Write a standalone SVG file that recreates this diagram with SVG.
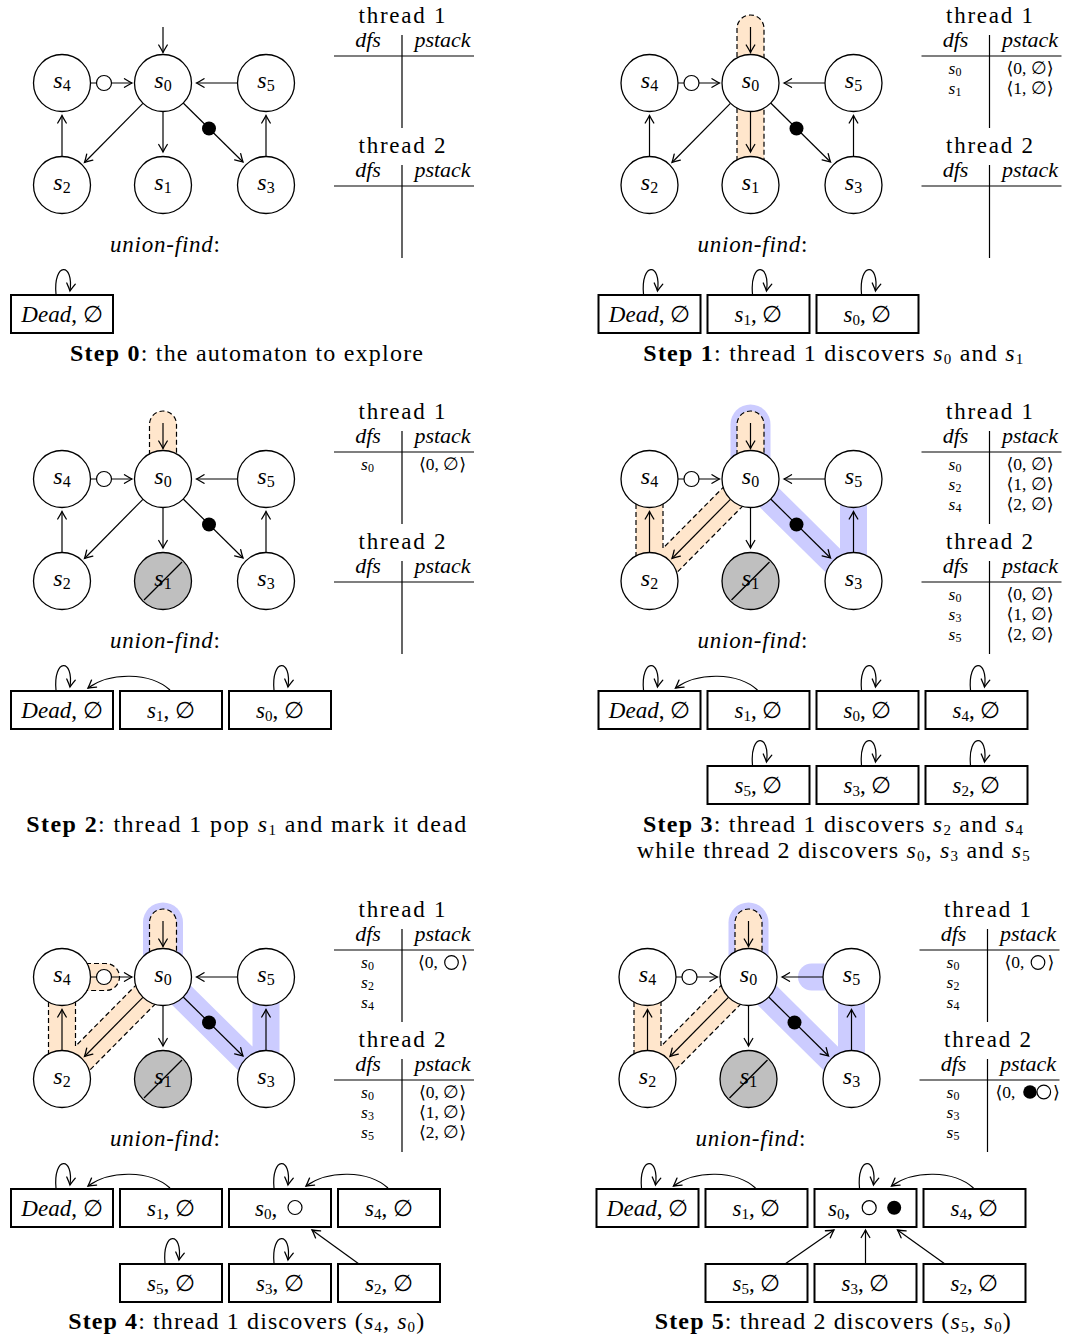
<svg xmlns="http://www.w3.org/2000/svg" width="1067" height="1340" viewBox="0 0 1067 1340">
<style>
text{font-family:"Liberation Serif","DejaVu Serif",serif;font-size:22px;fill:#000}
.it{font-style:italic}
.sb{font-size:15px;font-style:normal}
.bd{font-weight:bold}
.mid{text-anchor:middle}
.hd{font-size:23px}
.row{font-size:17.5px}
.row .sb{font-size:12px}
.cap{font-size:24px;text-anchor:middle}
.nd circle{fill:#fff;stroke:#000;stroke-width:1.3}
.nd.dead circle{fill:#bfbfbf}
.nd text{text-anchor:middle;font-size:24px}
.nd .sb{font-size:16px}
.sl{stroke:#000;stroke-width:1.3}
.e{fill:none;stroke:#000;stroke-width:1.2}
.a{marker-end:url(#ah)}
.oc{fill:#fff;stroke:#000;stroke-width:1.2}
.fc{fill:#000}
.or{fill:none;stroke:#ffe6cc;stroke-width:27;stroke-linecap:round;stroke-linejoin:round}
.bl{fill:none;stroke:#ccccff;stroke-width:27;stroke-linecap:round;stroke-linejoin:round}
.bw{stroke-width:40}
.ds{fill:none;stroke:#000;stroke-width:1.2;stroke-dasharray:5 3}
.tl{fill:none;stroke:#000;stroke-width:1.2}
.bx rect{fill:#fff;stroke:#000;stroke-width:2}
.bx text{text-anchor:middle;font-size:23px}
</style>
<defs>
<marker id="ah" viewBox="-10 -6 12 12" refX="0" refY="0" markerWidth="12" markerHeight="12" markerUnits="userSpaceOnUse" orient="auto">
<path d="M-7.5,-4.3 Q-2.5,-1.2 0,0 Q-2.5,1.2 -7.5,4.3" fill="none" stroke="#000" stroke-width="1.3" stroke-linecap="round"/>
</marker>
</defs>

<!-- ================= STEP 0 ================= -->
<g id="step0">
<g id="p0-connectors">
<path class="e a" d="M163,27V52.5"/>
<path class="e a" d="M90.5,83H132"/>
<circle class="oc" cx="104" cy="83" r="7.5"/>
<path class="e a" d="M237.5,83H196.5"/>
<path class="e a" d="M142.9,103.3L84.5,162.5"/>
<path class="e a" d="M163,111.5V152"/>
<path class="e a" d="M183.2,103L243,162"/>
<circle class="fc" cx="209" cy="128.5" r="7"/>
<path class="e a" d="M62,156.5V115.5"/>
<path class="e a" d="M266,156.5V115.5"/>
<path class="e a" d="M56,294C53,262 74,262 70,291"/>
</g>
<g id="p0-s0" class="nd"><circle cx="163" cy="83" r="28.5"/><text x="163" y="87.5"><tspan class="it">s</tspan><tspan class="sb" dy="3">0</tspan></text></g>
<g id="p0-s1" class="nd"><circle cx="163" cy="185" r="28.5"/><text x="163" y="189.5"><tspan class="it">s</tspan><tspan class="sb" dy="3">1</tspan></text></g>
<g id="p0-s2" class="nd"><circle cx="62" cy="185" r="28.5"/><text x="62" y="189.5"><tspan class="it">s</tspan><tspan class="sb" dy="3">2</tspan></text></g>
<g id="p0-s3" class="nd"><circle cx="266" cy="185" r="28.5"/><text x="266" y="189.5"><tspan class="it">s</tspan><tspan class="sb" dy="3">3</tspan></text></g>
<g id="p0-s4" class="nd"><circle cx="62" cy="83" r="28.5"/><text x="62" y="87.5"><tspan class="it">s</tspan><tspan class="sb" dy="3">4</tspan></text></g>
<g id="p0-s5" class="nd"><circle cx="266" cy="83" r="28.5"/><text x="266" y="87.5"><tspan class="it">s</tspan><tspan class="sb" dy="3">5</tspan></text></g>
<g id="p0-thread1">
<text class="mid hd" x="402" y="23" textLength="87">thread 1</text>
<text class="it mid" x="368" y="46.5">dfs</text>
<text class="it mid" x="442.5" y="46.5">pstack</text>
<path class="tl" d="M334,56H474M402,35V128"/>
</g>
<g id="p0-thread2" transform="translate(0,130)">
<text class="mid hd" x="402" y="23" textLength="87">thread 2</text>
<text class="it mid" x="368" y="46.5">dfs</text>
<text class="it mid" x="442.5" y="46.5">pstack</text>
<path class="tl" d="M334,56H474M402,35V128"/>
</g>
<text class="mid hd" x="165" y="251.5" textLength="110"><tspan class="it">union-find</tspan>:</text>
<g id="p0-uf-dead" class="bx"><rect x="11" y="295" width="102" height="38"/><text x="62" y="321.5"><tspan class="it">Dead</tspan>, ∅</text></g>
<text class="cap" x="246.5" y="361" textLength="353"><tspan class="bd">Step 0</tspan>: the automaton to explore</text>
</g>

<!-- ================= STEP 1 ================= -->
<g id="step1" transform="translate(587.5,0)">
<g id="p1-highlight">
<path class="or" d="M163,28.5V185"/>
<path class="ds" d="M149.5,185V28.5A13.5,13.5 0 0 1 176.5,28.5V185"/>
</g>
<g id="p1-connectors">
<path class="e a" d="M163,27V52.5"/>
<path class="e a" d="M90.5,83H132"/>
<circle class="oc" cx="104" cy="83" r="7.5"/>
<path class="e a" d="M237.5,83H196.5"/>
<path class="e a" d="M142.9,103.3L84.5,162.5"/>
<path class="e a" d="M163,111.5V152"/>
<path class="e a" d="M183.2,103L243,162"/>
<circle class="fc" cx="209" cy="128.5" r="7"/>
<path class="e a" d="M62,156.5V115.5"/>
<path class="e a" d="M266,156.5V115.5"/>
<path class="e a" d="M56,294C53,262 74,262 70,291"/>
<path class="e a" d="M165,294C162,262 183,262 179,291"/>
<path class="e a" d="M274,294C271,262 292,262 288,291"/>
</g>
<g id="p1-s0" class="nd"><circle cx="163" cy="83" r="28.5"/><text x="163" y="87.5"><tspan class="it">s</tspan><tspan class="sb" dy="3">0</tspan></text></g>
<g id="p1-s1" class="nd"><circle cx="163" cy="185" r="28.5"/><text x="163" y="189.5"><tspan class="it">s</tspan><tspan class="sb" dy="3">1</tspan></text></g>
<g id="p1-s2" class="nd"><circle cx="62" cy="185" r="28.5"/><text x="62" y="189.5"><tspan class="it">s</tspan><tspan class="sb" dy="3">2</tspan></text></g>
<g id="p1-s3" class="nd"><circle cx="266" cy="185" r="28.5"/><text x="266" y="189.5"><tspan class="it">s</tspan><tspan class="sb" dy="3">3</tspan></text></g>
<g id="p1-s4" class="nd"><circle cx="62" cy="83" r="28.5"/><text x="62" y="87.5"><tspan class="it">s</tspan><tspan class="sb" dy="3">4</tspan></text></g>
<g id="p1-s5" class="nd"><circle cx="266" cy="83" r="28.5"/><text x="266" y="87.5"><tspan class="it">s</tspan><tspan class="sb" dy="3">5</tspan></text></g>
<g id="p1-thread1">
<text class="mid hd" x="402" y="23" textLength="87">thread 1</text>
<text class="it mid" x="368" y="46.5">dfs</text>
<text class="it mid" x="442.5" y="46.5">pstack</text>
<path class="tl" d="M334,56H474M402,35V128"/>
<text class="mid row"><tspan x="367.5" y="74" class="it">s</tspan><tspan class="sb" dy="2">0</tspan><tspan x="367.5" y="94" class="it">s</tspan><tspan class="sb" dy="2">1</tspan></text>
<text class="mid row"><tspan x="442.5" y="74">⟨0, ∅⟩</tspan><tspan x="442.5" y="94">⟨1, ∅⟩</tspan></text>
</g>
<g id="p1-thread2" transform="translate(0,130)">
<text class="mid hd" x="402" y="23" textLength="87">thread 2</text>
<text class="it mid" x="368" y="46.5">dfs</text>
<text class="it mid" x="442.5" y="46.5">pstack</text>
<path class="tl" d="M334,56H474M402,35V128"/>
</g>
<text class="mid hd" x="165" y="251.5" textLength="110"><tspan class="it">union-find</tspan>:</text>
<g id="p1-uf-dead" class="bx"><rect x="11" y="295" width="102" height="38"/><text x="62" y="321.5"><tspan class="it">Dead</tspan>, ∅</text></g>
<g id="p1-uf-s1" class="bx"><rect x="120" y="295" width="102" height="38"/><text x="171" y="321.5"><tspan class="it">s</tspan><tspan class="sb" dy="3">1</tspan><tspan dy="-3">, ∅</tspan></text></g>
<g id="p1-uf-s0" class="bx"><rect x="229" y="295" width="102" height="38"/><text x="280" y="321.5"><tspan class="it">s</tspan><tspan class="sb" dy="3">0</tspan><tspan dy="-3">, ∅</tspan></text></g>
<text class="cap" x="245.8" y="361" textLength="380"><tspan class="bd">Step 1</tspan>: thread 1 discovers <tspan class="it">s</tspan><tspan class="sb" dy="3">0</tspan><tspan dy="-3"> and </tspan><tspan class="it">s</tspan><tspan class="sb" dy="3">1</tspan></text>
</g>

<!-- ================= STEP 2 ================= -->
<g id="step2" transform="translate(0,396)">
<g id="p2-highlight">
<path class="or" d="M163,28.5V83"/>
<path class="ds" d="M149.5,83V28.5A13.5,13.5 0 0 1 176.5,28.5V83"/>
</g>
<g id="p2-connectors">
<path class="e a" d="M163,27V52.5"/>
<path class="e a" d="M90.5,83H132"/>
<circle class="oc" cx="104" cy="83" r="7.5"/>
<path class="e a" d="M237.5,83H196.5"/>
<path class="e a" d="M142.9,103.3L84.5,162.5"/>
<path class="e a" d="M163,111.5V152"/>
<path class="e a" d="M183.2,103L243,162"/>
<circle class="fc" cx="209" cy="128.5" r="7"/>
<path class="e a" d="M62,156.5V115.5"/>
<path class="e a" d="M266,156.5V115.5"/>
<path class="e a" d="M56,294C53,262 74,262 70,291"/>
<path class="e a" d="M170,294C150,276 110,276 88,292"/>
<path class="e a" d="M274,294C271,262 292,262 288,291"/>
</g>
<g id="p2-s0" class="nd"><circle cx="163" cy="83" r="28.5"/><text x="163" y="87.5"><tspan class="it">s</tspan><tspan class="sb" dy="3">0</tspan></text></g>
<g id="p2-s1" class="nd dead"><circle cx="163" cy="185" r="28.5"/><text x="163" y="189.5"><tspan class="it">s</tspan><tspan class="sb" dy="3">1</tspan></text><path class="sl" d="M144,204L182,166"/></g>
<g id="p2-s2" class="nd"><circle cx="62" cy="185" r="28.5"/><text x="62" y="189.5"><tspan class="it">s</tspan><tspan class="sb" dy="3">2</tspan></text></g>
<g id="p2-s3" class="nd"><circle cx="266" cy="185" r="28.5"/><text x="266" y="189.5"><tspan class="it">s</tspan><tspan class="sb" dy="3">3</tspan></text></g>
<g id="p2-s4" class="nd"><circle cx="62" cy="83" r="28.5"/><text x="62" y="87.5"><tspan class="it">s</tspan><tspan class="sb" dy="3">4</tspan></text></g>
<g id="p2-s5" class="nd"><circle cx="266" cy="83" r="28.5"/><text x="266" y="87.5"><tspan class="it">s</tspan><tspan class="sb" dy="3">5</tspan></text></g>
<g id="p2-thread1">
<text class="mid hd" x="402" y="23" textLength="87">thread 1</text>
<text class="it mid" x="368" y="46.5">dfs</text>
<text class="it mid" x="442.5" y="46.5">pstack</text>
<path class="tl" d="M334,56H474M402,35V128"/>
<text class="mid row" x="367.5" y="74"><tspan class="it">s</tspan><tspan class="sb" dy="2">0</tspan></text>
<text class="mid row" x="442.5" y="74">⟨0, ∅⟩</text>
</g>
<g id="p2-thread2" transform="translate(0,130)">
<text class="mid hd" x="402" y="23" textLength="87">thread 2</text>
<text class="it mid" x="368" y="46.5">dfs</text>
<text class="it mid" x="442.5" y="46.5">pstack</text>
<path class="tl" d="M334,56H474M402,35V128"/>
</g>
<text class="mid hd" x="165" y="251.5" textLength="110"><tspan class="it">union-find</tspan>:</text>
<g id="p2-uf-dead" class="bx"><rect x="11" y="295" width="102" height="38"/><text x="62" y="321.5"><tspan class="it">Dead</tspan>, ∅</text></g>
<g id="p2-uf-s1" class="bx"><rect x="120" y="295" width="102" height="38"/><text x="171" y="321.5"><tspan class="it">s</tspan><tspan class="sb" dy="3">1</tspan><tspan dy="-3">, ∅</tspan></text></g>
<g id="p2-uf-s0" class="bx"><rect x="229" y="295" width="102" height="38"/><text x="280" y="321.5"><tspan class="it">s</tspan><tspan class="sb" dy="3">0</tspan><tspan dy="-3">, ∅</tspan></text></g>
<text class="cap" x="246.3" y="435.7" textLength="440"><tspan class="bd">Step 2</tspan>: thread 1 pop <tspan class="it">s</tspan><tspan class="sb" dy="3">1</tspan><tspan dy="-3"> and mark it dead</tspan></text>
</g>

<!-- ================= STEP 3 ================= -->
<g id="step3" transform="translate(587.5,396)">
<g id="p3-highlight">
<path class="bl bw" d="M163,28.5V83"/>
<path class="bl" d="M163,83L266,185V83"/>
<path class="or" d="M163,28.5V83L62,185V83"/>
<path class="ds" d="M149.5,83V28.5A13.5,13.5 0 0 1 176.5,28.5V83M172.6,92.5L71.6,194.5M48.5,185V83M75.5,83V152.2L153.4,73.5"/>
</g>
<g id="p3-connectors">
<path class="e a" d="M163,27V52.5"/>
<path class="e a" d="M90.5,83H132"/>
<circle class="oc" cx="104" cy="83" r="7.5"/>
<path class="e a" d="M237.5,83H196.5"/>
<path class="e a" d="M142.9,103.3L84.5,162.5"/>
<path class="e a" d="M163,111.5V152"/>
<path class="e a" d="M183.2,103L243,162"/>
<circle class="fc" cx="209" cy="128.5" r="7"/>
<path class="e a" d="M62,156.5V115.5"/>
<path class="e a" d="M266,156.5V115.5"/>
<path class="e a" d="M56,294C53,262 74,262 70,291"/>
<path class="e a" d="M170,294C150,276 110,276 88,292"/>
<path class="e a" d="M274,294C271,262 292,262 288,291"/>
<path class="e a" d="M383,294C380,262 401,262 397,291"/>
<path class="e a" d="M165,369C162,337 183,337 179,366"/>
<path class="e a" d="M274,369C271,337 292,337 288,366"/>
<path class="e a" d="M383,369C380,337 401,337 397,366"/>
</g>
<g id="p3-s0" class="nd"><circle cx="163" cy="83" r="28.5"/><text x="163" y="87.5"><tspan class="it">s</tspan><tspan class="sb" dy="3">0</tspan></text></g>
<g id="p3-s1" class="nd dead"><circle cx="163" cy="185" r="28.5"/><text x="163" y="189.5"><tspan class="it">s</tspan><tspan class="sb" dy="3">1</tspan></text><path class="sl" d="M144,204L182,166"/></g>
<g id="p3-s2" class="nd"><circle cx="62" cy="185" r="28.5"/><text x="62" y="189.5"><tspan class="it">s</tspan><tspan class="sb" dy="3">2</tspan></text></g>
<g id="p3-s3" class="nd"><circle cx="266" cy="185" r="28.5"/><text x="266" y="189.5"><tspan class="it">s</tspan><tspan class="sb" dy="3">3</tspan></text></g>
<g id="p3-s4" class="nd"><circle cx="62" cy="83" r="28.5"/><text x="62" y="87.5"><tspan class="it">s</tspan><tspan class="sb" dy="3">4</tspan></text></g>
<g id="p3-s5" class="nd"><circle cx="266" cy="83" r="28.5"/><text x="266" y="87.5"><tspan class="it">s</tspan><tspan class="sb" dy="3">5</tspan></text></g>
<g id="p3-thread1">
<text class="mid hd" x="402" y="23" textLength="87">thread 1</text>
<text class="it mid" x="368" y="46.5">dfs</text>
<text class="it mid" x="442.5" y="46.5">pstack</text>
<path class="tl" d="M334,56H474M402,35V128"/>
<text class="mid row"><tspan x="367.5" y="74" class="it">s</tspan><tspan class="sb" dy="2">0</tspan><tspan x="367.5" y="94" class="it">s</tspan><tspan class="sb" dy="2">2</tspan><tspan x="367.5" y="114" class="it">s</tspan><tspan class="sb" dy="2">4</tspan></text>
<text class="mid row"><tspan x="442.5" y="74">⟨0, ∅⟩</tspan><tspan x="442.5" y="94">⟨1, ∅⟩</tspan><tspan x="442.5" y="114">⟨2, ∅⟩</tspan></text>
</g>
<g id="p3-thread2" transform="translate(0,130)">
<text class="mid hd" x="402" y="23" textLength="87">thread 2</text>
<text class="it mid" x="368" y="46.5">dfs</text>
<text class="it mid" x="442.5" y="46.5">pstack</text>
<path class="tl" d="M334,56H474M402,35V128"/>
<text class="mid row"><tspan x="367.5" y="74" class="it">s</tspan><tspan class="sb" dy="2">0</tspan><tspan x="367.5" y="94" class="it">s</tspan><tspan class="sb" dy="2">3</tspan><tspan x="367.5" y="114" class="it">s</tspan><tspan class="sb" dy="2">5</tspan></text>
<text class="mid row"><tspan x="442.5" y="74">⟨0, ∅⟩</tspan><tspan x="442.5" y="94">⟨1, ∅⟩</tspan><tspan x="442.5" y="114">⟨2, ∅⟩</tspan></text>
</g>
<text class="mid hd" x="165" y="251.5" textLength="110"><tspan class="it">union-find</tspan>:</text>
<g id="p3-uf-dead" class="bx"><rect x="11" y="295" width="102" height="38"/><text x="62" y="321.5"><tspan class="it">Dead</tspan>, ∅</text></g>
<g id="p3-uf-s1" class="bx"><rect x="120" y="295" width="102" height="38"/><text x="171" y="321.5"><tspan class="it">s</tspan><tspan class="sb" dy="3">1</tspan><tspan dy="-3">, ∅</tspan></text></g>
<g id="p3-uf-s0" class="bx"><rect x="229" y="295" width="102" height="38"/><text x="280" y="321.5"><tspan class="it">s</tspan><tspan class="sb" dy="3">0</tspan><tspan dy="-3">, ∅</tspan></text></g>
<g id="p3-uf-s4" class="bx"><rect x="338" y="295" width="102" height="38"/><text x="389" y="321.5"><tspan class="it">s</tspan><tspan class="sb" dy="3">4</tspan><tspan dy="-3">, ∅</tspan></text></g>
<g id="p3-uf-s5" class="bx"><rect x="120" y="370" width="102" height="38"/><text x="171" y="396.5"><tspan class="it">s</tspan><tspan class="sb" dy="3">5</tspan><tspan dy="-3">, ∅</tspan></text></g>
<g id="p3-uf-s3" class="bx"><rect x="229" y="370" width="102" height="38"/><text x="280" y="396.5"><tspan class="it">s</tspan><tspan class="sb" dy="3">3</tspan><tspan dy="-3">, ∅</tspan></text></g>
<g id="p3-uf-s2" class="bx"><rect x="338" y="370" width="102" height="38"/><text x="389" y="396.5"><tspan class="it">s</tspan><tspan class="sb" dy="3">2</tspan><tspan dy="-3">, ∅</tspan></text></g>
<text class="cap" x="245.5" y="435.7" textLength="380"><tspan class="bd">Step 3</tspan>: thread 1 discovers <tspan class="it">s</tspan><tspan class="sb" dy="3">2</tspan><tspan dy="-3"> and </tspan><tspan class="it">s</tspan><tspan class="sb" dy="3">4</tspan></text>
<text class="cap" x="245.8" y="462.3" textLength="393">while thread 2 discovers <tspan class="it">s</tspan><tspan class="sb" dy="3">0</tspan><tspan dy="-3">, </tspan><tspan class="it">s</tspan><tspan class="sb" dy="3">3</tspan><tspan dy="-3"> and </tspan><tspan class="it">s</tspan><tspan class="sb" dy="3">5</tspan></text>
</g>

<!-- ================= STEP 4 ================= -->
<g id="step4" transform="translate(0,894)">
<g id="p4-highlight">
<path class="bl bw" d="M163,28.5V83"/>
<path class="bl" d="M163,83L266,185V83"/>
<path class="or" d="M163,28.5V83L62,185V83"/>
<path class="or" d="M62,83H106"/>
<path class="ds" d="M149.5,83V28.5A13.5,13.5 0 0 1 176.5,28.5V83M172.6,92.5L71.6,194.5M48.5,185V83M75.5,83V152.2L153.4,73.5"/>
<path class="ds" d="M62,69.5H106A13.5,13.5 0 0 1 106,96.5H62"/>
</g>
<g id="p4-connectors">
<path class="e a" d="M163,27V52.5"/>
<path class="e a" d="M90.5,83H132"/>
<circle class="oc" cx="104" cy="83" r="7.5"/>
<path class="e a" d="M237.5,83H196.5"/>
<path class="e a" d="M142.9,103.3L84.5,162.5"/>
<path class="e a" d="M163,111.5V152"/>
<path class="e a" d="M183.2,103L243,162"/>
<circle class="fc" cx="209" cy="128.5" r="7"/>
<path class="e a" d="M62,156.5V115.5"/>
<path class="e a" d="M266,156.5V115.5"/>
<path class="e a" d="M56,294C53,262 74,262 70,291"/>
<path class="e a" d="M170,294C150,276 110,276 88,292"/>
<path class="e a" d="M274,294C271,262 292,262 288,291"/>
<path class="e a" d="M388,294C368,276 328,276 306,292"/>
<path class="e a" d="M165,369C162,337 183,337 179,366"/>
<path class="e a" d="M274,369C271,337 292,337 288,366"/>
<path class="e a" d="M359,370L312,336"/>
</g>
<g id="p4-s0" class="nd"><circle cx="163" cy="83" r="28.5"/><text x="163" y="87.5"><tspan class="it">s</tspan><tspan class="sb" dy="3">0</tspan></text></g>
<g id="p4-s1" class="nd dead"><circle cx="163" cy="185" r="28.5"/><text x="163" y="189.5"><tspan class="it">s</tspan><tspan class="sb" dy="3">1</tspan></text><path class="sl" d="M144,204L182,166"/></g>
<g id="p4-s2" class="nd"><circle cx="62" cy="185" r="28.5"/><text x="62" y="189.5"><tspan class="it">s</tspan><tspan class="sb" dy="3">2</tspan></text></g>
<g id="p4-s3" class="nd"><circle cx="266" cy="185" r="28.5"/><text x="266" y="189.5"><tspan class="it">s</tspan><tspan class="sb" dy="3">3</tspan></text></g>
<g id="p4-s4" class="nd"><circle cx="62" cy="83" r="28.5"/><text x="62" y="87.5"><tspan class="it">s</tspan><tspan class="sb" dy="3">4</tspan></text></g>
<g id="p4-s5" class="nd"><circle cx="266" cy="83" r="28.5"/><text x="266" y="87.5"><tspan class="it">s</tspan><tspan class="sb" dy="3">5</tspan></text></g>
<g id="p4-thread1">
<text class="mid hd" x="402" y="23" textLength="87">thread 1</text>
<text class="it mid" x="368" y="46.5">dfs</text>
<text class="it mid" x="442.5" y="46.5">pstack</text>
<path class="tl" d="M334,56H474M402,35V128"/>
<text class="mid row"><tspan x="367.5" y="74" class="it">s</tspan><tspan class="sb" dy="2">0</tspan><tspan x="367.5" y="94" class="it">s</tspan><tspan class="sb" dy="2">2</tspan><tspan x="367.5" y="114" class="it">s</tspan><tspan class="sb" dy="2">4</tspan></text>
<text class="row" x="418" y="74">⟨0,</text><circle class="oc" cx="451.5" cy="68.5" r="6.8"/><text class="row" x="461" y="74">⟩</text>
</g>
<g id="p4-thread2" transform="translate(0,130)">
<text class="mid hd" x="402" y="23" textLength="87">thread 2</text>
<text class="it mid" x="368" y="46.5">dfs</text>
<text class="it mid" x="442.5" y="46.5">pstack</text>
<path class="tl" d="M334,56H474M402,35V128"/>
<text class="mid row"><tspan x="367.5" y="74" class="it">s</tspan><tspan class="sb" dy="2">0</tspan><tspan x="367.5" y="94" class="it">s</tspan><tspan class="sb" dy="2">3</tspan><tspan x="367.5" y="114" class="it">s</tspan><tspan class="sb" dy="2">5</tspan></text>
<text class="mid row"><tspan x="442.5" y="74">⟨0, ∅⟩</tspan><tspan x="442.5" y="94">⟨1, ∅⟩</tspan><tspan x="442.5" y="114">⟨2, ∅⟩</tspan></text>
</g>
<text class="mid hd" x="165" y="251.5" textLength="110"><tspan class="it">union-find</tspan>:</text>
<g id="p4-uf-dead" class="bx"><rect x="11" y="295" width="102" height="38"/><text x="62" y="321.5"><tspan class="it">Dead</tspan>, ∅</text></g>
<g id="p4-uf-s1" class="bx"><rect x="120" y="295" width="102" height="38"/><text x="171" y="321.5"><tspan class="it">s</tspan><tspan class="sb" dy="3">1</tspan><tspan dy="-3">, ∅</tspan></text></g>
<g id="p4-uf-s0" class="bx"><rect x="229" y="295" width="102" height="38"/><text x="255" y="321.5" style="text-anchor:start"><tspan class="it">s</tspan><tspan class="sb" dy="3">0</tspan><tspan dy="-3">,</tspan></text><circle class="oc" cx="295" cy="313.5" r="7"/></g>
<g id="p4-uf-s4" class="bx"><rect x="338" y="295" width="102" height="38"/><text x="389" y="321.5"><tspan class="it">s</tspan><tspan class="sb" dy="3">4</tspan><tspan dy="-3">, ∅</tspan></text></g>
<g id="p4-uf-s5" class="bx"><rect x="120" y="370" width="102" height="38"/><text x="171" y="396.5"><tspan class="it">s</tspan><tspan class="sb" dy="3">5</tspan><tspan dy="-3">, ∅</tspan></text></g>
<g id="p4-uf-s3" class="bx"><rect x="229" y="370" width="102" height="38"/><text x="280" y="396.5"><tspan class="it">s</tspan><tspan class="sb" dy="3">3</tspan><tspan dy="-3">, ∅</tspan></text></g>
<g id="p4-uf-s2" class="bx"><rect x="338" y="370" width="102" height="38"/><text x="389" y="396.5"><tspan class="it">s</tspan><tspan class="sb" dy="3">2</tspan><tspan dy="-3">, ∅</tspan></text></g>
<text class="cap" x="246.2" y="435" textLength="356"><tspan class="bd">Step 4</tspan>: thread 1 discovers (<tspan class="it">s</tspan><tspan class="sb" dy="3">4</tspan><tspan dy="-3">, </tspan><tspan class="it">s</tspan><tspan class="sb" dy="3">0</tspan><tspan dy="-3">)</tspan></text>
</g>

<!-- ================= STEP 5 ================= -->
<g id="step5" transform="translate(585.5,894)">
<g id="p5-highlight">
<path class="bl bw" d="M163,28.5V83"/>
<path class="bl" d="M163,83L266,185V83"/>
<path class="bl" d="M266,83H226"/>
<path class="or" d="M163,28.5V83L62,185V83"/>
<path class="ds" d="M149.5,83V28.5A13.5,13.5 0 0 1 176.5,28.5V83M172.6,92.5L71.6,194.5M48.5,185V83M75.5,83V152.2L153.4,73.5"/>
</g>
<g id="p5-connectors">
<path class="e a" d="M163,27V52.5"/>
<path class="e a" d="M90.5,83H132"/>
<circle class="oc" cx="104" cy="83" r="7.5"/>
<path class="e a" d="M237.5,83H196.5"/>
<path class="e a" d="M142.9,103.3L84.5,162.5"/>
<path class="e a" d="M163,111.5V152"/>
<path class="e a" d="M183.2,103L243,162"/>
<circle class="fc" cx="209" cy="128.5" r="7"/>
<path class="e a" d="M62,156.5V115.5"/>
<path class="e a" d="M266,156.5V115.5"/>
<path class="e a" d="M56,294C53,262 74,262 70,291"/>
<path class="e a" d="M170,294C150,276 110,276 88,292"/>
<path class="e a" d="M274,294C271,262 292,262 288,291"/>
<path class="e a" d="M388,294C368,276 328,276 306,292"/>
<path class="e a" d="M199.5,370L248.5,336"/>
<path class="e a" d="M280,370V336"/>
<path class="e a" d="M359.5,370L312,336"/>
</g>
<g id="p5-s0" class="nd"><circle cx="163" cy="83" r="28.5"/><text x="163" y="87.5"><tspan class="it">s</tspan><tspan class="sb" dy="3">0</tspan></text></g>
<g id="p5-s1" class="nd dead"><circle cx="163" cy="185" r="28.5"/><text x="163" y="189.5"><tspan class="it">s</tspan><tspan class="sb" dy="3">1</tspan></text><path class="sl" d="M144,204L182,166"/></g>
<g id="p5-s2" class="nd"><circle cx="62" cy="185" r="28.5"/><text x="62" y="189.5"><tspan class="it">s</tspan><tspan class="sb" dy="3">2</tspan></text></g>
<g id="p5-s3" class="nd"><circle cx="266" cy="185" r="28.5"/><text x="266" y="189.5"><tspan class="it">s</tspan><tspan class="sb" dy="3">3</tspan></text></g>
<g id="p5-s4" class="nd"><circle cx="62" cy="83" r="28.5"/><text x="62" y="87.5"><tspan class="it">s</tspan><tspan class="sb" dy="3">4</tspan></text></g>
<g id="p5-s5" class="nd"><circle cx="266" cy="83" r="28.5"/><text x="266" y="87.5"><tspan class="it">s</tspan><tspan class="sb" dy="3">5</tspan></text></g>
<g id="p5-thread1">
<text class="mid hd" x="402" y="23" textLength="87">thread 1</text>
<text class="it mid" x="368" y="46.5">dfs</text>
<text class="it mid" x="442.5" y="46.5">pstack</text>
<path class="tl" d="M334,56H474M402,35V128"/>
<text class="mid row"><tspan x="367.5" y="74" class="it">s</tspan><tspan class="sb" dy="2">0</tspan><tspan x="367.5" y="94" class="it">s</tspan><tspan class="sb" dy="2">2</tspan><tspan x="367.5" y="114" class="it">s</tspan><tspan class="sb" dy="2">4</tspan></text>
<text class="row" x="419" y="74">⟨0,</text><circle class="oc" cx="452.5" cy="68.5" r="6.8"/><text class="row" x="462" y="74">⟩</text>
</g>
<g id="p5-thread2" transform="translate(0,130)">
<text class="mid hd" x="402" y="23" textLength="87">thread 2</text>
<text class="it mid" x="368" y="46.5">dfs</text>
<text class="it mid" x="442.5" y="46.5">pstack</text>
<path class="tl" d="M334,56H474M402,35V128"/>
<text class="mid row"><tspan x="367.5" y="74" class="it">s</tspan><tspan class="sb" dy="2">0</tspan><tspan x="367.5" y="94" class="it">s</tspan><tspan class="sb" dy="2">3</tspan><tspan x="367.5" y="114" class="it">s</tspan><tspan class="sb" dy="2">5</tspan></text>
<text class="row" x="410" y="74">⟨0,</text><circle class="fc" cx="444.5" cy="68" r="6.8"/><circle class="oc" cx="458.3" cy="68" r="6.8"/><text class="row" x="467.5" y="74">⟩</text>
</g>
<text class="mid hd" x="165" y="251.5" textLength="110"><tspan class="it">union-find</tspan>:</text>
<g id="p5-uf-dead" class="bx"><rect x="11" y="295" width="102" height="38"/><text x="62" y="321.5"><tspan class="it">Dead</tspan>, ∅</text></g>
<g id="p5-uf-s1" class="bx"><rect x="120" y="295" width="102" height="38"/><text x="171" y="321.5"><tspan class="it">s</tspan><tspan class="sb" dy="3">1</tspan><tspan dy="-3">, ∅</tspan></text></g>
<g id="p5-uf-s0" class="bx"><rect x="229" y="295" width="102" height="38"/><text x="242.5" y="321.5" style="text-anchor:start"><tspan class="it">s</tspan><tspan class="sb" dy="3">0</tspan><tspan dy="-3">,</tspan></text><circle class="oc" cx="283.7" cy="313.7" r="7"/><circle class="fc" cx="308.7" cy="313.7" r="7"/></g>
<g id="p5-uf-s4" class="bx"><rect x="338" y="295" width="102" height="38"/><text x="389" y="321.5"><tspan class="it">s</tspan><tspan class="sb" dy="3">4</tspan><tspan dy="-3">, ∅</tspan></text></g>
<g id="p5-uf-s5" class="bx"><rect x="120" y="370" width="102" height="38"/><text x="171" y="396.5"><tspan class="it">s</tspan><tspan class="sb" dy="3">5</tspan><tspan dy="-3">, ∅</tspan></text></g>
<g id="p5-uf-s3" class="bx"><rect x="229" y="370" width="102" height="38"/><text x="280" y="396.5"><tspan class="it">s</tspan><tspan class="sb" dy="3">3</tspan><tspan dy="-3">, ∅</tspan></text></g>
<g id="p5-uf-s2" class="bx"><rect x="338" y="370" width="102" height="38"/><text x="389" y="396.5"><tspan class="it">s</tspan><tspan class="sb" dy="3">2</tspan><tspan dy="-3">, ∅</tspan></text></g>
<text class="cap" x="247.3" y="435" textLength="356"><tspan class="bd">Step 5</tspan>: thread 2 discovers (<tspan class="it">s</tspan><tspan class="sb" dy="3">5</tspan><tspan dy="-3">, </tspan><tspan class="it">s</tspan><tspan class="sb" dy="3">0</tspan><tspan dy="-3">)</tspan></text>
</g>
</svg>
